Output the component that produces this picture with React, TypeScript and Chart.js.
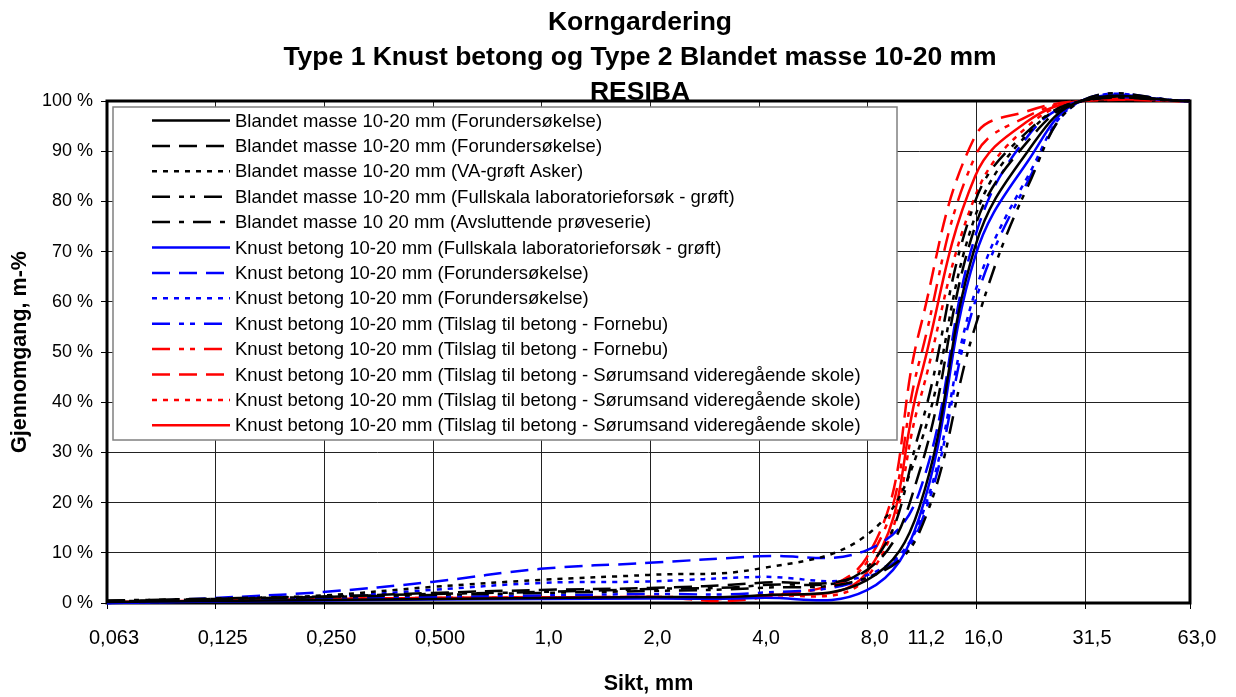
import React, { useEffect, useRef } from 'react';
import { Chart, registerables } from 'chart.js';

Chart.register(...registerables);

// Sieve sizes (mm)
const sieves = [0.063, 0.125, 0.25, 0.5, 1, 2, 4, 8, 11.2, 16, 22.4, 31.5, 63];

// Passing (%) for each series at the sieves above
const blandetForund1 = [0.2, 0.4, 0.6, 0.8, 1.0, 1.2, 1.5, 4.5, 19, 71, 90, 100, 100];
const blandetForund2 = [0.3, 0.8, 1.2, 2.0, 2.6, 3.0, 4.0, 6.5, 26, 75, 92, 100, 100];
const blandetVaAsker = [0.3, 0.8, 1.5, 3.2, 4.6, 5.6, 6.8, 13.5, 31, 77, 93.5, 100, 100];
const blandetFullskala = [0.5, 0.8, 1.2, 1.6, 2.0, 2.4, 3.0, 5, 14, 55, 83, 100, 100];
const blandetAvsluttende = [0.4, 0.9, 1.3, 1.8, 2.2, 2.8, 3.5, 7, 34, 80, 94, 100, 100];
const knustFullskala = [0, 0.3, 0.5, 0.7, 0.8, 0.9, 1.0, 2.5, 17, 69, 88, 100, 100];
const knustForund1 = [0, 1.0, 2.2, 4.2, 6.8, 8.0, 9.3, 10.5, 22, 73, 93, 100, 100];
const knustForund2 = [0, 0.6, 1.2, 2.6, 4.0, 4.3, 5.2, 5.5, 16, 62, 85, 100, 100];
const knustFornebu1 = [0, 0.4, 0.8, 1.2, 1.5, 1.8, 2.0, 5, 15, 60, 84, 100, 100];
const knustFornebu2 = [0.2, 0.5, 0.8, 1.0, 1.1, 1.2, 1.4, 8, 48, 89, 97, 100, 100];
const knustSorum1 = [0.2, 0.5, 0.8, 1.0, 1.1, 1.2, 1.0, 9, 54, 93, 98, 100, 100];
const knustSorum2 = [0.2, 0.5, 0.8, 1.0, 1.1, 1.2, 1.4, 5, 40, 81, 95, 100, 100];
const knustSorum3 = [0.2, 0.5, 0.8, 1.0, 1.1, 1.2, 1.4, 6, 44, 85, 96, 100, 100];

const seriesNames = [
  'Blandet masse 10-20 mm (Forundersøkelse)',
  'Blandet masse 10-20 mm (Forundersøkelse)',
  'Blandet masse 10-20 mm (VA-grøft Asker)',
  'Blandet masse 10-20 mm (Fullskala laboratorieforsøk - grøft)',
  'Blandet masse 10 20 mm (Avsluttende prøveserie)',
  'Knust betong 10-20 mm (Fullskala laboratorieforsøk - grøft)',
  'Knust betong 10-20 mm (Forundersøkelse)',
  'Knust betong 10-20 mm (Forundersøkelse)',
  'Knust betong 10-20 mm (Tilslag til betong - Fornebu)',
  'Knust betong 10-20 mm (Tilslag til betong - Fornebu)',
  'Knust betong 10-20 mm (Tilslag til betong - Sørumsand videregående skole)',
  'Knust betong 10-20 mm (Tilslag til betong - Sørumsand videregående skole)',
  'Knust betong 10-20 mm (Tilslag til betong - Sørumsand videregående skole)',
];

// x axis: log2 grid starting at 0.063
const xTickValues = [0.063, 0.126, 0.252, 0.504, 1.008, 2.016, 4.032, 8.064, 11.2, 16.128, 32.256, 63];
const xTickLabels = ['0,063', '0,125', '0,250', '0,500', '1,0', '2,0', '4,0', '8,0', '11,2', '16,0', '31,5', '63,0'];
const xNoGrid = [11.2, 63];

const titleLines = ['Korngardering', 'Type 1 Knust betong og Type 2 Blandet masse 10-20 mm', 'RESIBA'];

const FONT = '"Liberation Sans", Arial, sans-serif';

export default function App() {
  const ref = useRef<HTMLCanvasElement>(null);

  useEffect(() => {
    document.body.style.margin = '0';
    const canvas = ref.current;
    if (!canvas) return;

    const seriesValues = [
      blandetForund1, blandetForund2, blandetVaAsker, blandetFullskala, blandetAvsluttende,
      knustFullskala, knustForund1, knustForund2, knustFornebu1,
      knustFornebu2, knustSorum1, knustSorum2, knustSorum3,
    ];
    const BLACK = '#000000';
    const BLUE = '#0000ff';
    const RED = '#ff0000';
    const solid: number[] = [];
    const longDash = [18, 9];
    const dotted = [5, 6];
    const dashDotDot = [18, 9, 5, 6, 5, 9];
    const dashDot = [18, 9, 5, 9];
    const styles = [
      { c: BLACK, d: solid },
      { c: BLACK, d: longDash },
      { c: BLACK, d: dotted },
      { c: BLACK, d: dashDotDot },
      { c: BLACK, d: dashDot },
      { c: BLUE, d: solid },
      { c: BLUE, d: longDash },
      { c: BLUE, d: dotted },
      { c: BLUE, d: dashDotDot },
      { c: RED, d: dashDotDot },
      { c: RED, d: longDash },
      { c: RED, d: dotted },
      { c: RED, d: solid },
    ];

    const datasets = seriesValues.map((vals, i) => ({
      label: seriesNames[i],
      data: sieves.map((s, j) => ({ x: s, y: vals[j] })),
      borderColor: styles[i].c,
      backgroundColor: styles[i].c,
      borderDash: styles[i].d,
      borderWidth: 2.5,
      pointRadius: 0,
      tension: 0.4,
      capBezierPoints: false,
      fill: false,
      clip: false as any,
    }));

    const framePlugin = {
      id: 'frame',
      beforeDatasetsDraw(chart: any) {
        const { ctx, chartArea: a } = chart;
        ctx.save();
        ctx.strokeStyle = '#000';
        ctx.lineWidth = 3;
        ctx.strokeRect(a.left, a.top, a.right - a.left, a.bottom - a.top);
        ctx.restore();
      },
    };

    const legendPlugin = {
      id: 'boxLegend',
      afterDatasetsDraw(chart: any) {
        const { ctx } = chart;
        const bx = 113, by = 107, bw = 784, bh = 333;
        ctx.save();
        ctx.fillStyle = '#ffffff';
        ctx.fillRect(bx, by, bw, bh);
        ctx.strokeStyle = '#808080';
        ctx.lineWidth = 1.5;
        ctx.strokeRect(bx, by, bw, bh);
        ctx.font = `18.5px ${FONT}`;
        ctx.textBaseline = 'middle';
        ctx.textAlign = 'left';
        seriesNames.forEach((name, i) => {
          const y = 120.5 + i * 25.4;
          ctx.strokeStyle = styles[i].c;
          ctx.lineWidth = 2.5;
          ctx.setLineDash(styles[i].d);
          ctx.beginPath();
          ctx.moveTo(152, y);
          ctx.lineTo(230, y);
          ctx.stroke();
          ctx.setLineDash([]);
          ctx.fillStyle = '#000';
          ctx.fillText(name, 235, y + 1);
        });
        ctx.restore();
      },
    };

    const titlePlugin = {
      id: 'multiTitle',
      afterDraw(chart: any) {
        const { ctx } = chart;
        ctx.save();
        ctx.fillStyle = '#000';
        ctx.font = `bold 26.5px ${FONT}`;
        ctx.textAlign = 'center';
        ctx.textBaseline = 'alphabetic';
        const baselines = [30, 65, 100];
        titleLines.forEach((t, i) => ctx.fillText(t, 640, baselines[i]));
        ctx.restore();
      },
    };

    const chart = new Chart(canvas, {
      type: 'line',
      data: { datasets: datasets as any },
      options: {
        animation: false,
        responsive: false,
        maintainAspectRatio: false,
        layout: { padding: { left: 0, right: 46, top: 101, bottom: 0 } },
        plugins: {
          legend: { display: false },
          title: { display: false },
          tooltip: { enabled: false },
        },
        scales: {
          x: {
            type: 'logarithmic',
            min: 0.063,
            max: 63,
            afterBuildTicks: (scale: any) => {
              scale.ticks = xTickValues.map((v) => ({ value: v }));
            },
            afterFit: (scale: any) => {
              scale.height = 94;
            },
            ticks: {
              autoSkip: false,
              maxRotation: 0,
              minRotation: 0,
              padding: 17,
              labelOffset: 7,
              color: '#000',
              font: { family: FONT, size: 20 },
              callback: (_v: any, i: number) => xTickLabels[i],
            },
            grid: {
              color: (c: any) => (c.tick && xNoGrid.includes(c.tick.value) ? 'rgba(0,0,0,0)' : '#222'),
              tickColor: (c: any) => (c.tick && c.tick.value === 11.2 ? 'rgba(0,0,0,0)' : '#000'),
              lineWidth: 1,
              tickLength: 6,
            },
            border: { display: false },
            title: {
              display: true,
              text: 'Sikt, mm',
              color: '#000',
              font: { family: FONT, size: 21.5, weight: 'bold' },
              padding: { top: 0, bottom: 0 },
            },
          },
          y: {
            type: 'linear',
            min: 0,
            max: 100,
            afterFit: (scale: any) => {
              scale.width = 107;
            },
            ticks: {
              stepSize: 10,
              padding: 8,
              color: '#000',
              font: { family: FONT, size: 18 },
              callback: (v: any) => `${v} %`,
            },
            grid: {
              color: '#222',
              lineWidth: 1,
              tickLength: 6,
              tickColor: '#000',
            },
            border: { display: false },
            title: {
              display: true,
              text: 'Gjennomgang, m-%',
              color: '#000',
              font: { family: FONT, size: 21.5, weight: 'bold' },
              padding: { top: 7, bottom: 0 },
            },
          },
        },
      } as any,
      plugins: [framePlugin, legendPlugin, titlePlugin],
    });

    return () => chart.destroy();
  }, []);

  return (
    <div style={{ width: 1236, height: 697, background: '#fff' }}>
      <canvas ref={ref} width={1236} height={697} style={{ display: 'block', width: 1236, height: 697 }} />
    </div>
  );
}
